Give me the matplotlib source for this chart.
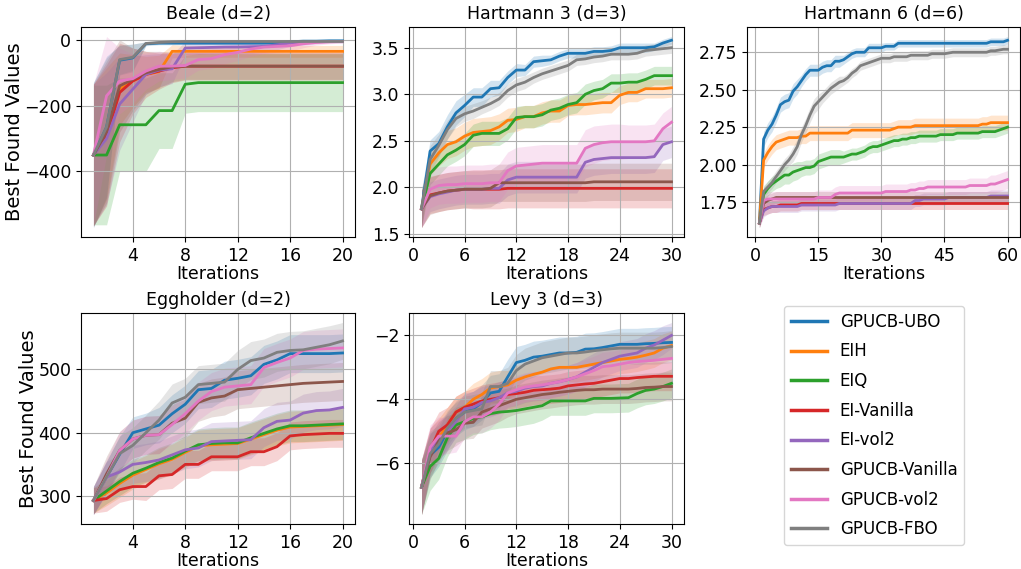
import numpy as np
import matplotlib.pyplot as plt

METHODS = ['GPUCB-UBO', 'EIH', 'EIQ', 'EI-Vanilla', 'EI-vol2',
           'GPUCB-Vanilla', 'GPUCB-vol2', 'GPUCB-FBO']
COLORS = ['C0', 'C1', 'C2', 'C3', 'C4', 'C5', 'C6', 'C7']

# ---------------- Beale (d=2), 20 iterations ----------------
beale_mean = [
  [-350, -265, -62, -55, -12, -10, -10, -10, -10, -10, -10, -10, -10, -10, -9, -6, -4, -4, -3, -3],
  [-350, -285, -150, -125, -105, -97, -35, -35, -35, -35, -35, -35, -35, -35, -35, -35, -35, -35, -35, -35],
  [-350, -350, -258, -258, -258, -215, -215, -135, -130, -130, -130, -130, -130, -130, -130, -130, -130, -130, -130, -130],
  [-350, -290, -160, -125, -105, -95, -85, -80, -80, -80, -80, -80, -80, -80, -80, -80, -80, -80, -80, -80],
  [-350, -300, -195, -150, -105, -92, -88, -25, -24, -23, -22, -22, -21, -20, -15, -10, -8, -6, -5, -5],
  [-350, -280, -140, -120, -100, -90, -82, -80, -80, -80, -80, -80, -80, -80, -80, -80, -80, -80, -80, -80],
  [-350, -170, -125, -118, -95, -80, -80, -78, -60, -57, -45, -38, -28, -22, -20, -18, -12, -8, -6, -5],
  [-350, -265, -60, -53, -11, -8, -6, -5, -5, -5, -5, -5, -5, -5, -5, -5, -5, -5, -5, -5],
]
beale_sd = [
  [220, 215, 45, 42, 6, 5, 5, 5, 5, 5, 5, 5, 5, 5, 5, 4, 3, 3, 3, 3],
  [215, 200, 110, 80, 55, 50, 20, 18, 18, 18, 18, 18, 18, 18, 18, 18, 18, 18, 18, 18],
  [212, 212, 142, 142, 142, 115, 115, 88, 88, 88, 88, 88, 88, 88, 88, 88, 88, 88, 88, 88],
  [215, 215, 150, 100, 70, 55, 45, 42, 42, 42, 42, 42, 42, 42, 42, 42, 42, 42, 42, 42],
  [215, 200, 140, 100, 60, 50, 45, 20, 20, 20, 20, 20, 20, 18, 15, 10, 8, 6, 5, 5],
  [215, 215, 140, 95, 65, 55, 45, 40, 40, 40, 40, 40, 40, 40, 40, 40, 40, 40, 40, 40],
  [215, 180, 100, 75, 55, 45, 40, 38, 32, 30, 28, 25, 22, 20, 18, 16, 12, 8, 6, 5],
  [220, 210, 45, 40, 5, 4, 3, 3, 3, 3, 3, 3, 3, 3, 3, 3, 3, 3, 3, 3],
]

# ---------------- Hartmann 3 (d=3), 30 iterations ----------------
hart3_mean = [
  [1.77, 2.39, 2.47, 2.65, 2.80, 2.88, 2.97, 2.97, 3.06, 3.07, 3.18, 3.26, 3.26, 3.35, 3.36,
   3.37, 3.41, 3.44, 3.44, 3.44, 3.46, 3.46, 3.47, 3.50, 3.50, 3.50, 3.50, 3.51, 3.55, 3.58],
  [1.77, 2.25, 2.37, 2.46, 2.49, 2.55, 2.59, 2.60, 2.61, 2.65, 2.72, 2.73, 2.76, 2.76, 2.80,
   2.82, 2.82, 2.88, 2.89, 2.89, 2.90, 2.91, 2.91, 2.99, 3.02, 3.02, 3.06, 3.06, 3.06, 3.07],
  [1.77, 2.15, 2.25, 2.35, 2.40, 2.46, 2.56, 2.58, 2.58, 2.58, 2.63, 2.75, 2.76, 2.76, 2.78,
   2.83, 2.85, 2.89, 2.91, 3.00, 3.04, 3.06, 3.12, 3.12, 3.13, 3.13, 3.16, 3.20, 3.20, 3.20],
  [1.77, 1.92, 1.94, 1.96, 1.97, 1.98, 1.98, 1.98, 1.98, 1.98, 1.99, 1.99, 1.99, 1.99, 1.99,
   1.99, 1.99, 1.99, 1.99, 1.99, 1.99, 1.99, 1.99, 1.99, 1.99, 1.99, 1.99, 1.99, 1.99, 1.99],
  [1.77, 1.90, 1.93, 1.95, 1.97, 1.98, 1.98, 1.98, 1.99, 1.99, 2.08, 2.11, 2.11, 2.11, 2.11,
   2.11, 2.11, 2.11, 2.11, 2.27, 2.30, 2.31, 2.32, 2.32, 2.32, 2.32, 2.32, 2.33, 2.46, 2.49],
  [1.77, 1.91, 1.94, 1.96, 1.97, 1.98, 1.98, 1.98, 1.99, 2.05, 2.05, 2.05, 2.05, 2.05, 2.05,
   2.05, 2.05, 2.05, 2.05, 2.05, 2.06, 2.06, 2.06, 2.06, 2.06, 2.06, 2.06, 2.06, 2.06, 2.06],
  [1.77, 1.98, 2.02, 2.03, 2.03, 2.04, 2.04, 2.04, 2.05, 2.05, 2.18, 2.23, 2.24, 2.25, 2.26,
   2.26, 2.26, 2.26, 2.26, 2.42, 2.46, 2.48, 2.49, 2.49, 2.49, 2.49, 2.49, 2.50, 2.63, 2.70],
  [1.77, 2.30, 2.45, 2.62, 2.74, 2.79, 2.82, 2.86, 2.90, 2.95, 3.04, 3.10, 3.13, 3.18, 3.22,
   3.25, 3.28, 3.31, 3.37, 3.38, 3.40, 3.41, 3.43, 3.43, 3.43, 3.44, 3.47, 3.48, 3.49, 3.50],
]
hart3_sd = [
  [0.20, 0.12, 0.13, 0.13, 0.13, 0.12, 0.10, 0.10, 0.09, 0.08, 0.07, 0.07, 0.06, 0.06, 0.06,
   0.05, 0.05, 0.05, 0.05, 0.05, 0.05, 0.05, 0.05, 0.05, 0.05, 0.05, 0.05, 0.04, 0.04, 0.04],
  [0.20, 0.12, 0.14, 0.15, 0.15, 0.15, 0.15, 0.15, 0.15, 0.14, 0.13, 0.13, 0.12, 0.12, 0.12,
   0.12, 0.12, 0.11, 0.11, 0.11, 0.11, 0.11, 0.11, 0.10, 0.10, 0.10, 0.10, 0.10, 0.10, 0.10],
  [0.20, 0.12, 0.12, 0.12, 0.12, 0.12, 0.12, 0.13, 0.13, 0.13, 0.12, 0.12, 0.12, 0.12, 0.12,
   0.11, 0.11, 0.11, 0.11, 0.11, 0.10, 0.10, 0.10, 0.10, 0.10, 0.10, 0.10, 0.10, 0.10, 0.10],
  [0.20, 0.20, 0.20, 0.20, 0.20, 0.20, 0.21, 0.21, 0.21, 0.21, 0.21, 0.21, 0.21, 0.21, 0.21,
   0.21, 0.21, 0.21, 0.21, 0.21, 0.21, 0.21, 0.21, 0.21, 0.21, 0.21, 0.21, 0.21, 0.21, 0.21],
  [0.20, 0.16, 0.16, 0.16, 0.16, 0.16, 0.16, 0.16, 0.16, 0.16, 0.17, 0.17, 0.17, 0.17, 0.17,
   0.17, 0.17, 0.17, 0.17, 0.17, 0.17, 0.17, 0.17, 0.17, 0.17, 0.17, 0.17, 0.17, 0.17, 0.17],
  [0.20, 0.20, 0.20, 0.20, 0.20, 0.20, 0.20, 0.20, 0.20, 0.20, 0.20, 0.20, 0.20, 0.20, 0.20,
   0.20, 0.20, 0.20, 0.20, 0.20, 0.20, 0.20, 0.20, 0.20, 0.20, 0.20, 0.20, 0.20, 0.20, 0.20],
  [0.20, 0.20, 0.20, 0.20, 0.20, 0.20, 0.20, 0.20, 0.20, 0.20, 0.20, 0.20, 0.20, 0.20, 0.20,
   0.20, 0.20, 0.20, 0.20, 0.20, 0.20, 0.19, 0.19, 0.19, 0.18, 0.18, 0.18, 0.18, 0.17, 0.17],
  [0.20, 0.15, 0.12, 0.10, 0.09, 0.08, 0.08, 0.07, 0.07, 0.07, 0.07, 0.07, 0.07, 0.06, 0.06,
   0.06, 0.06, 0.06, 0.06, 0.06, 0.06, 0.06, 0.06, 0.06, 0.06, 0.06, 0.06, 0.06, 0.06, 0.06],
]

# ---------------- Hartmann 6 (d=6), 60 iterations ----------------
hart6_mean = [
  [1.61, 2.17, 2.23, 2.27, 2.33, 2.40, 2.42, 2.43, 2.49, 2.52,
   2.56, 2.60, 2.63, 2.63, 2.63, 2.65, 2.66, 2.66, 2.69, 2.69,
   2.70, 2.72, 2.74, 2.75, 2.75, 2.75, 2.78, 2.78, 2.78, 2.78,
   2.79, 2.79, 2.79, 2.81, 2.81, 2.81, 2.81, 2.81, 2.81, 2.81,
   2.81, 2.81, 2.81, 2.81, 2.81, 2.81, 2.81, 2.81, 2.81, 2.81,
   2.81, 2.81, 2.81, 2.81, 2.81, 2.82, 2.82, 2.82, 2.82, 2.83],
  [1.61, 2.03, 2.08, 2.12, 2.15, 2.16, 2.17, 2.18, 2.18, 2.18,
   2.19, 2.19, 2.21, 2.21, 2.21, 2.21, 2.21, 2.21, 2.21, 2.21,
   2.21, 2.21, 2.23, 2.23, 2.23, 2.23, 2.23, 2.23, 2.23, 2.23,
   2.23, 2.23, 2.24, 2.25, 2.25, 2.25, 2.25, 2.26, 2.26, 2.26,
   2.26, 2.26, 2.26, 2.26, 2.26, 2.26, 2.26, 2.26, 2.26, 2.26,
   2.26, 2.26, 2.26, 2.27, 2.27, 2.28, 2.28, 2.28, 2.28, 2.28],
  [1.61, 1.80, 1.84, 1.87, 1.89, 1.91, 1.93, 1.93, 1.95, 1.96,
   1.97, 1.98, 1.98, 1.99, 2.02, 2.03, 2.04, 2.05, 2.05, 2.05,
   2.05, 2.06, 2.07, 2.07, 2.08, 2.09, 2.11, 2.12, 2.12, 2.13,
   2.14, 2.15, 2.16, 2.16, 2.17, 2.17, 2.18, 2.18, 2.19, 2.19,
   2.19, 2.19, 2.19, 2.20, 2.20, 2.20, 2.20, 2.21, 2.21, 2.21,
   2.21, 2.21, 2.21, 2.22, 2.22, 2.22, 2.22, 2.23, 2.24, 2.25],
  [1.61, 1.70, 1.71, 1.72, 1.72, 1.73, 1.73, 1.73, 1.73, 1.73,
   1.74, 1.74, 1.74, 1.74, 1.74, 1.74, 1.74, 1.74, 1.74, 1.74,
   1.74, 1.74, 1.74, 1.74, 1.74, 1.74, 1.74, 1.74, 1.74, 1.74,
   1.74, 1.74, 1.74, 1.74, 1.74, 1.74, 1.74, 1.74, 1.74, 1.74,
   1.74, 1.74, 1.74, 1.74, 1.74, 1.74, 1.74, 1.74, 1.74, 1.74,
   1.74, 1.74, 1.74, 1.74, 1.74, 1.74, 1.74, 1.74, 1.74, 1.74],
  [1.61, 1.69, 1.71, 1.72, 1.72, 1.72, 1.72, 1.72, 1.72, 1.72,
   1.73, 1.73, 1.73, 1.73, 1.73, 1.73, 1.73, 1.73, 1.73, 1.74,
   1.74, 1.74, 1.74, 1.74, 1.74, 1.74, 1.74, 1.74, 1.74, 1.74,
   1.74, 1.74, 1.74, 1.74, 1.74, 1.74, 1.74, 1.76, 1.76, 1.77,
   1.77, 1.77, 1.77, 1.77, 1.77, 1.78, 1.78, 1.78, 1.78, 1.78,
   1.78, 1.78, 1.78, 1.78, 1.78, 1.79, 1.79, 1.79, 1.79, 1.79],
  [1.61, 1.74, 1.76, 1.77, 1.78, 1.78, 1.78, 1.78, 1.78, 1.78,
   1.78, 1.78, 1.78, 1.78, 1.78, 1.78, 1.78, 1.78, 1.78, 1.78,
   1.78, 1.78, 1.78, 1.78, 1.78, 1.78, 1.78, 1.78, 1.78, 1.78,
   1.78, 1.78, 1.78, 1.78, 1.78, 1.78, 1.78, 1.78, 1.78, 1.78,
   1.78, 1.78, 1.78, 1.78, 1.78, 1.78, 1.78, 1.78, 1.78, 1.78,
   1.78, 1.78, 1.78, 1.78, 1.78, 1.78, 1.78, 1.78, 1.78, 1.78],
  [1.61, 1.76, 1.77, 1.77, 1.77, 1.77, 1.77, 1.77, 1.77, 1.77,
   1.77, 1.77, 1.77, 1.77, 1.78, 1.78, 1.78, 1.78, 1.80, 1.81,
   1.81, 1.81, 1.81, 1.81, 1.81, 1.81, 1.81, 1.81, 1.81, 1.81,
   1.82, 1.82, 1.82, 1.82, 1.82, 1.82, 1.83, 1.83, 1.84, 1.84,
   1.85, 1.85, 1.85, 1.85, 1.85, 1.85, 1.85, 1.85, 1.85, 1.85,
   1.86, 1.86, 1.86, 1.86, 1.86, 1.87, 1.87, 1.88, 1.89, 1.90],
  [1.61, 1.82, 1.85, 1.88, 1.92, 1.96, 2.00, 2.03, 2.07, 2.12,
   2.20, 2.26, 2.33, 2.39, 2.42, 2.45, 2.48, 2.51, 2.53, 2.55,
   2.56, 2.58, 2.61, 2.63, 2.66, 2.67, 2.68, 2.69, 2.70, 2.71,
   2.71, 2.71, 2.72, 2.72, 2.72, 2.72, 2.73, 2.73, 2.73, 2.73,
   2.73, 2.74, 2.74, 2.74, 2.74, 2.745, 2.75, 2.75, 2.75, 2.75,
   2.75, 2.75, 2.75, 2.75, 2.75, 2.76, 2.76, 2.765, 2.77, 2.77],
]
hart6_sd = [
  [0.03, 0.05, 0.05, 0.05, 0.05, 0.05, 0.05, 0.05, 0.05, 0.05,
   0.04, 0.04, 0.04, 0.04, 0.04, 0.04, 0.04, 0.04, 0.04, 0.04,
   0.03, 0.03, 0.03, 0.03, 0.03, 0.03, 0.03, 0.03, 0.03, 0.03,
   0.025, 0.025, 0.025, 0.025, 0.025, 0.025, 0.025, 0.025, 0.025, 0.025,
   0.025, 0.025, 0.025, 0.025, 0.025, 0.025, 0.025, 0.025, 0.025, 0.025,
   0.025, 0.025, 0.025, 0.025, 0.025, 0.025, 0.025, 0.025, 0.025, 0.025],
  [0.03, 0.05, 0.05, 0.05, 0.05, 0.05, 0.05, 0.05, 0.05, 0.05,
   0.05, 0.05, 0.05, 0.05, 0.05, 0.05, 0.05, 0.05, 0.05, 0.05,
   0.05, 0.05, 0.05, 0.05, 0.05, 0.05, 0.05, 0.05, 0.05, 0.05,
   0.05, 0.05, 0.05, 0.05, 0.05, 0.05, 0.05, 0.05, 0.05, 0.05,
   0.05, 0.05, 0.05, 0.05, 0.05, 0.05, 0.05, 0.05, 0.05, 0.05,
   0.05, 0.05, 0.05, 0.05, 0.05, 0.05, 0.05, 0.05, 0.05, 0.05],
  [0.03, 0.05, 0.05, 0.05, 0.05, 0.06, 0.06, 0.06, 0.06, 0.06,
   0.05, 0.05, 0.05, 0.05, 0.05, 0.05, 0.05, 0.05, 0.05, 0.05,
   0.04, 0.04, 0.04, 0.04, 0.04, 0.04, 0.04, 0.04, 0.04, 0.04,
   0.04, 0.04, 0.04, 0.04, 0.04, 0.04, 0.04, 0.04, 0.04, 0.04,
   0.04, 0.04, 0.04, 0.04, 0.04, 0.04, 0.04, 0.04, 0.04, 0.04,
   0.04, 0.04, 0.04, 0.04, 0.04, 0.04, 0.04, 0.04, 0.04, 0.04],
  [0.03, 0.04, 0.04, 0.04, 0.04, 0.04, 0.04, 0.04, 0.04, 0.04,
   0.04, 0.04, 0.04, 0.04, 0.04, 0.04, 0.04, 0.04, 0.04, 0.04,
   0.04, 0.04, 0.04, 0.04, 0.04, 0.04, 0.04, 0.04, 0.04, 0.04,
   0.04, 0.04, 0.04, 0.04, 0.04, 0.04, 0.04, 0.04, 0.04, 0.04,
   0.04, 0.04, 0.04, 0.04, 0.04, 0.04, 0.04, 0.04, 0.04, 0.04,
   0.04, 0.04, 0.04, 0.04, 0.04, 0.04, 0.04, 0.04, 0.04, 0.04],
  [0.03, 0.04, 0.04, 0.04, 0.04, 0.04, 0.04, 0.04, 0.04, 0.04,
   0.04, 0.04, 0.04, 0.04, 0.04, 0.04, 0.04, 0.04, 0.04, 0.04,
   0.04, 0.04, 0.04, 0.04, 0.04, 0.04, 0.04, 0.04, 0.04, 0.04,
   0.04, 0.04, 0.04, 0.04, 0.04, 0.04, 0.04, 0.04, 0.04, 0.04,
   0.04, 0.04, 0.04, 0.04, 0.04, 0.04, 0.04, 0.04, 0.04, 0.04,
   0.04, 0.04, 0.04, 0.04, 0.04, 0.04, 0.04, 0.04, 0.04, 0.04],
  [0.03, 0.04, 0.04, 0.04, 0.04, 0.04, 0.04, 0.04, 0.04, 0.04,
   0.04, 0.04, 0.04, 0.04, 0.04, 0.04, 0.04, 0.04, 0.04, 0.04,
   0.04, 0.04, 0.04, 0.04, 0.04, 0.04, 0.04, 0.04, 0.04, 0.04,
   0.04, 0.04, 0.04, 0.04, 0.04, 0.04, 0.04, 0.04, 0.04, 0.04,
   0.04, 0.04, 0.04, 0.04, 0.04, 0.04, 0.04, 0.04, 0.04, 0.04,
   0.04, 0.04, 0.04, 0.04, 0.04, 0.04, 0.04, 0.04, 0.04, 0.04],
  [0.03, 0.05, 0.05, 0.05, 0.05, 0.05, 0.05, 0.05, 0.05, 0.05,
   0.05, 0.05, 0.05, 0.05, 0.05, 0.05, 0.05, 0.05, 0.05, 0.05,
   0.05, 0.05, 0.05, 0.05, 0.05, 0.05, 0.05, 0.05, 0.05, 0.05,
   0.05, 0.05, 0.05, 0.05, 0.05, 0.05, 0.05, 0.05, 0.05, 0.05,
   0.05, 0.05, 0.05, 0.05, 0.05, 0.05, 0.05, 0.05, 0.05, 0.05,
   0.05, 0.05, 0.05, 0.05, 0.05, 0.06, 0.06, 0.06, 0.06, 0.06],
  [0.03, 0.04, 0.04, 0.04, 0.04, 0.04, 0.04, 0.04, 0.05, 0.05,
   0.05, 0.05, 0.05, 0.05, 0.05, 0.04, 0.04, 0.04, 0.04, 0.04,
   0.03, 0.03, 0.03, 0.03, 0.03, 0.03, 0.03, 0.03, 0.03, 0.03,
   0.03, 0.03, 0.03, 0.03, 0.03, 0.03, 0.03, 0.03, 0.03, 0.03,
   0.03, 0.03, 0.03, 0.03, 0.03, 0.03, 0.03, 0.03, 0.03, 0.03,
   0.03, 0.03, 0.03, 0.03, 0.03, 0.03, 0.03, 0.03, 0.03, 0.03],
]

# ---------------- Eggholder (d=2), 20 iterations ----------------
egg_mean = [
  [293, 330, 366, 400, 406, 412, 430, 445, 468, 470, 483, 486, 490, 508, 515, 525, 525, 525, 525, 526],
  [293, 305, 320, 333, 342, 351, 358, 369, 379, 381, 382, 383, 390, 397, 404, 409, 410, 411, 412, 413],
  [293, 308, 323, 336, 344, 353, 360, 371, 381, 383, 384, 384, 392, 399, 406, 411, 411, 412, 413, 414],
  [293, 296, 310, 315, 315, 332, 334, 350, 350, 362, 362, 362, 370, 370, 378, 395, 397, 398, 399, 399],
  [293, 330, 338, 350, 353, 357, 365, 373, 376, 386, 387, 388, 389, 408, 418, 420, 431, 435, 436, 440],
  [293, 335, 372, 390, 396, 397, 415, 423, 448, 455, 458, 468, 470, 472, 474, 476, 478, 479, 480, 481],
  [293, 330, 372, 390, 396, 397, 413, 430, 450, 465, 472, 474, 476, 503, 511, 518, 530, 532, 533, 534],
  [293, 330, 367, 380, 400, 420, 447, 456, 476, 478, 480, 500, 514, 518, 527, 530, 531, 535, 539, 545],
]
egg_sd = [
  [22, 25, 28, 25, 25, 28, 30, 30, 30, 30, 30, 30, 30, 30, 30, 30, 30, 30, 30, 30],
  [20, 20, 22, 22, 22, 24, 24, 24, 25, 25, 25, 25, 25, 25, 25, 25, 25, 25, 25, 25],
  [20, 20, 22, 22, 22, 24, 24, 24, 25, 25, 25, 25, 25, 25, 25, 25, 25, 25, 25, 25],
  [20, 20, 20, 20, 22, 22, 22, 22, 22, 22, 22, 22, 22, 22, 22, 22, 22, 22, 22, 22],
  [22, 25, 28, 30, 30, 30, 30, 30, 30, 30, 30, 30, 30, 30, 30, 30, 30, 30, 30, 30],
  [22, 28, 30, 30, 30, 30, 30, 30, 30, 30, 30, 30, 30, 30, 30, 30, 30, 30, 30, 30],
  [22, 28, 30, 30, 30, 30, 30, 30, 30, 30, 30, 30, 30, 30, 30, 30, 30, 30, 30, 30],
  [22, 25, 28, 28, 28, 30, 30, 30, 30, 30, 30, 30, 30, 30, 30, 30, 30, 30, 30, 29],
]

# ---------------- Levy 3 (d=3), 30 iterations ----------------
levy_mean = [
  [-6.75, -5.75, -5.5, -5.0, -4.6, -4.4, -4.3, -4.1, -3.8, -3.75, -3.3, -2.85, -2.78, -2.68, -2.65,
   -2.6, -2.55, -2.55, -2.53, -2.43, -2.42, -2.38, -2.33, -2.28, -2.28, -2.28, -2.26, -2.25, -2.23, -2.22],
  [-6.75, -5.6, -5.2, -4.8, -4.4, -4.25, -4.0, -3.85, -3.65, -3.6, -3.55, -3.4, -3.3, -3.22, -3.15,
   -3.05, -3.0, -3.0, -3.0, -2.95, -2.9, -2.85, -2.8, -2.75, -2.72, -2.68, -2.62, -2.55, -2.4, -2.32],
  [-6.75, -6.1, -5.85, -5.2, -4.8, -4.7, -4.6, -4.55, -4.45, -4.4, -4.38, -4.35, -4.3, -4.25, -4.2,
   -4.05, -4.05, -4.05, -4.05, -4.05, -3.97, -3.97, -3.97, -3.96, -3.95, -3.82, -3.72, -3.68, -3.6, -3.5],
  [-6.75, -5.6, -5.0, -4.8, -4.4, -4.25, -4.15, -4.05, -4.0, -3.95, -3.85, -3.82, -3.78, -3.72, -3.7,
   -3.68, -3.65, -3.58, -3.55, -3.52, -3.5, -3.45, -3.4, -3.35, -3.35, -3.32, -3.3, -3.28, -3.28, -3.28],
  [-6.75, -5.6, -5.25, -5.0, -4.7, -4.3, -4.25, -4.1, -4.05, -3.95, -3.8, -3.75, -3.65, -3.6, -3.58,
   -3.5, -3.45, -3.38, -3.3, -3.15, -3.0, -2.85, -2.75, -2.65, -2.6, -2.55, -2.4, -2.3, -2.15, -2.0],
  [-6.75, -5.8, -5.3, -5.05, -4.95, -4.75, -4.72, -4.4, -4.3, -4.2, -4.1, -4.0, -3.95, -3.9, -3.85,
   -3.82, -3.78, -3.75, -3.72, -3.7, -3.7, -3.68, -3.68, -3.68, -3.68, -3.66, -3.63, -3.62, -3.6, -3.6],
  [-6.75, -5.5, -5.15, -5.15, -5.15, -4.7, -4.55, -4.55, -4.4, -4.15, -3.8, -3.7, -3.62, -3.58, -3.55,
   -3.5, -3.45, -3.38, -3.3, -3.2, -3.1, -2.98, -2.95, -2.9, -2.85, -2.82, -2.8, -2.78, -2.75, -2.72],
  [-6.75, -5.7, -5.4, -4.9, -4.6, -4.4, -4.35, -4.3, -3.6, -3.6, -3.5, -3.1, -2.9, -2.8, -2.7,
   -2.65, -2.6, -2.55, -2.55, -2.52, -2.48, -2.45, -2.42, -2.4, -2.4, -2.4, -2.4, -2.4, -2.38, -2.35],
]
levy_sd = [
  [0.85, 0.7, 0.6, 0.6, 0.55, 0.55, 0.55, 0.55, 0.55, 0.55, 0.55, 0.5, 0.5, 0.5, 0.5,
   0.5, 0.5, 0.5, 0.5, 0.5, 0.5, 0.5, 0.5, 0.5, 0.5, 0.5, 0.5, 0.5, 0.5, 0.5],
  [0.85, 0.7, 0.6, 0.55, 0.5, 0.5, 0.5, 0.5, 0.5, 0.5, 0.45, 0.45, 0.45, 0.45, 0.45,
   0.45, 0.45, 0.45, 0.45, 0.45, 0.45, 0.45, 0.45, 0.45, 0.45, 0.45, 0.45, 0.45, 0.45, 0.45],
  [0.85, 0.75, 0.65, 0.6, 0.55, 0.55, 0.5, 0.5, 0.5, 0.5, 0.5, 0.5, 0.5, 0.5, 0.45,
   0.45, 0.45, 0.45, 0.45, 0.45, 0.45, 0.45, 0.45, 0.45, 0.45, 0.45, 0.45, 0.45, 0.45, 0.45],
  [0.85, 0.7, 0.6, 0.55, 0.5, 0.5, 0.5, 0.5, 0.5, 0.5, 0.45, 0.45, 0.45, 0.45, 0.45,
   0.45, 0.45, 0.45, 0.45, 0.45, 0.45, 0.45, 0.45, 0.45, 0.45, 0.45, 0.45, 0.45, 0.45, 0.45],
  [0.85, 0.7, 0.6, 0.55, 0.5, 0.5, 0.5, 0.5, 0.5, 0.5, 0.45, 0.45, 0.45, 0.45, 0.45,
   0.45, 0.45, 0.45, 0.45, 0.45, 0.45, 0.45, 0.45, 0.45, 0.45, 0.45, 0.45, 0.45, 0.45, 0.4],
  [0.85, 0.7, 0.6, 0.55, 0.5, 0.5, 0.5, 0.5, 0.5, 0.5, 0.45, 0.45, 0.45, 0.45, 0.45,
   0.45, 0.45, 0.45, 0.45, 0.45, 0.45, 0.45, 0.45, 0.45, 0.45, 0.45, 0.45, 0.45, 0.45, 0.45],
  [0.85, 0.7, 0.6, 0.55, 0.5, 0.5, 0.5, 0.5, 0.5, 0.5, 0.45, 0.45, 0.45, 0.45, 0.45,
   0.45, 0.45, 0.45, 0.45, 0.45, 0.45, 0.45, 0.45, 0.45, 0.45, 0.45, 0.45, 0.45, 0.45, 0.45],
  [0.85, 0.7, 0.6, 0.55, 0.5, 0.5, 0.5, 0.5, 0.5, 0.5, 0.5, 0.5, 0.5, 0.5, 0.5,
   0.5, 0.5, 0.5, 0.5, 0.5, 0.5, 0.5, 0.5, 0.5, 0.5, 0.5, 0.5, 0.5, 0.5, 0.5],
]

W, H = 1021, 569


def px_axes(fig, left, top, right, bottom):
  return fig.add_axes([left / W, 1 - bottom / H, (right - left) / W, (bottom - top) / H])


def draw(ax, title, means, sds, xticks, yticks, ylabel=False):
  for mean, sd, color, name in zip(means, sds, COLORS, METHODS):
    mean = np.array(mean, dtype=float)
    sd = np.array(sd, dtype=float)
    it = np.arange(1, len(mean) + 1)
    ax.fill_between(it, mean - sd, mean + sd, color=color, alpha=0.2, linewidth=0)
    ax.plot(it, mean, color=color, lw=2.0, label=name)
  ax.set_title(title, fontsize=12.5)
  ax.set_xlabel('Iterations', fontsize=12.5, labelpad=0)
  if ylabel:
    ax.set_ylabel('Best Found Values', fontsize=14, labelpad=0)
  ax.set_xticks(xticks)
  ax.set_yticks(yticks)
  ax.tick_params(labelsize=12.5)
  ax.grid(True)


fig = plt.figure(figsize=(W / 100, H / 100), dpi=100)

ax1 = px_axes(fig, 81, 27, 355, 237)
draw(ax1, 'Beale (d=2)', beale_mean, beale_sd, [4, 8, 12, 16, 20], [-400, -200, 0], ylabel=True)

ax2 = px_axes(fig, 409, 27, 684, 237)
draw(ax2, 'Hartmann 3 (d=3)', hart3_mean, hart3_sd, [0, 6, 12, 18, 24, 30], [1.5, 2.0, 2.5, 3.0, 3.5])

ax3 = px_axes(fig, 747, 27, 1020, 237)
draw(ax3, 'Hartmann 6 (d=6)', hart6_mean, hart6_sd, [0, 15, 30, 45, 60], [1.75, 2.0, 2.25, 2.5, 2.75])

ax4 = px_axes(fig, 81, 313, 355, 524)
draw(ax4, 'Eggholder (d=2)', egg_mean, egg_sd, [4, 8, 12, 16, 20], [300, 400, 500], ylabel=True)

ax5 = px_axes(fig, 409, 313, 684, 524)
draw(ax5, 'Levy 3 (d=3)', levy_mean, levy_sd, [0, 6, 12, 18, 24, 30], [-6, -4, -2])

handles, labels = ax1.get_legend_handles_labels()
leg = fig.legend(handles, labels, loc='upper left', bbox_to_anchor=(784 / W, 1 - 306 / H),
                 borderaxespad=0, fontsize=12, handlelength=2.15, labelspacing=0.7)
for line in leg.get_lines():
  line.set_linewidth(2.5)

fig.savefig('out.png', dpi=100)
